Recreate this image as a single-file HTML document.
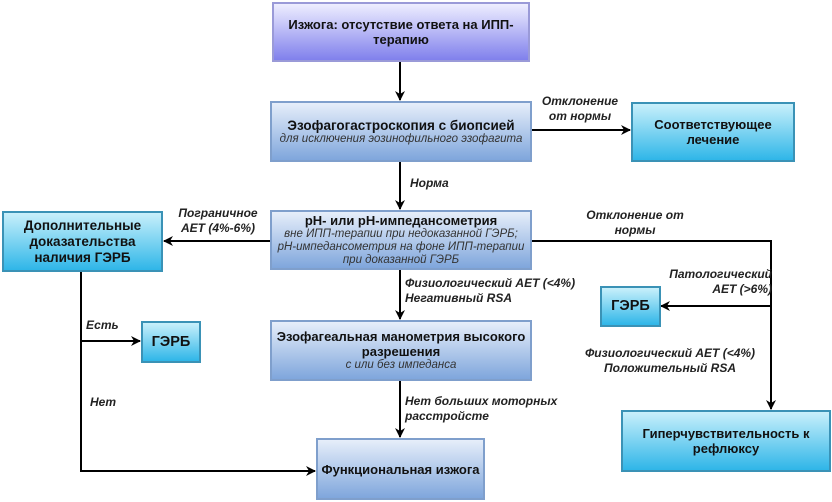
<!DOCTYPE html><html><head><meta charset="utf-8"><style>
body{margin:0;width:832px;height:502px;background:#fff;position:relative;overflow:hidden;font-family:"Liberation Sans",sans-serif;}
.b{position:absolute;box-sizing:border-box;display:flex;flex-direction:column;justify-content:center;align-items:center;text-align:center;font-size:13px;line-height:15px;color:#111;font-weight:600;}
.p{background:linear-gradient(#eeeeff,#8080ec);border:2px solid #9a9ad8;}
.bl{background:linear-gradient(#e6eefa,#7fa6dc);border:2px solid #7f9fcc;}
.c{background:linear-gradient(#c8f0fb,#2fb6e8);border:2px solid #3a92b6;}
i{font-size:11.5px;line-height:13px;color:#333;font-weight:normal}
.l{position:absolute;font-style:italic;font-weight:bold;font-size:12px;line-height:15px;color:#222;text-align:center;}
</style></head><body>
<svg width="832" height="502" style="position:absolute;left:0;top:0">
<defs><marker id="a" markerWidth="10" markerHeight="10" refX="9" refY="5" orient="auto" markerUnits="userSpaceOnUse"><path d="M0,0L10,5L0,10L3,5z" fill="#000"/></marker></defs>
<g stroke="#000" stroke-width="2" fill="none">
<path d="M400 61V100" marker-end="url(#a)"/>
<path d="M400 161V209" marker-end="url(#a)"/>
<path d="M400 269V319" marker-end="url(#a)"/>
<path d="M400 380V437" marker-end="url(#a)"/>
<path d="M531 130H630" marker-end="url(#a)"/>
<path d="M270 241H164" marker-end="url(#a)"/>
<path d="M531 241H771V409" marker-end="url(#a)"/>
<path d="M771 306H661" marker-end="url(#a)"/>
<path d="M81 271V471H315" marker-end="url(#a)"/>
<path d="M81 341H140" marker-end="url(#a)"/>
</g></svg>
<div class="b p" style="left:272px;top:2px;width:258px;height:60px">Изжога: отсутствие ответа на ИПП-<br>терапию</div>
<div class="b bl" style="left:270px;top:101px;width:262px;height:61px"><span style="font-size:13.5px">Эзофагогастроскопия с биопсией</span><i>для исключения эозинофильного эзофагита</i></div>
<div class="b bl" style="left:270px;top:210px;width:262px;height:60px"><b style="font-size:13px">pH- или pH-импедансометрия</b><i>вне ИПП-терапии при недоказанной ГЭРБ;<br>pH-импедансометрия на фоне ИПП-терапии<br>при доказанной ГЭРБ</i></div>
<div class="b bl" style="left:270px;top:320px;width:262px;height:61px">Эзофагеальная манометрия высокого<br>разрешения<i>с или без импеданса</i></div>
<div class="b bl" style="left:316px;top:438px;width:169px;height:62px">Функциональная изжога</div>
<div class="b c" style="left:631px;top:102px;width:164px;height:60px">Соответствующее<br>лечение</div>
<div class="b c" style="left:2px;top:211px;width:161px;height:61px;font-size:13.5px;line-height:16px">Дополнительные<br>доказательства<br>наличия ГЭРБ</div>
<div class="b c" style="left:141px;top:321px;width:60px;height:42px;font-weight:bold;font-size:14.5px">ГЭРБ</div>
<div class="b c" style="left:600px;top:286px;width:61px;height:41px;font-weight:bold;font-size:14.5px">ГЭРБ</div>
<div class="b c" style="left:621px;top:410px;width:210px;height:62px">Гиперчувствительность к<br>рефлюксу</div>
<div class="l" style="left:533px;top:94px;width:94px">Отклонение<br>от нормы</div>
<div class="l" style="left:410px;top:176px">Норма</div>
<div class="l" style="left:166px;top:206px;width:104px">Пограничное<br>AET (4%-6%)</div>
<div class="l" style="left:560px;top:208px;width:150px">Отклонение от<br>нормы</div>
<div class="l" style="left:405px;top:276px;text-align:left">Физиологический AET (&lt;4%)<br>Негативный RSA</div>
<div class="l" style="left:645px;top:267px;width:127px;text-align:right">Патологический<br>AET (&gt;6%)</div>
<div class="l" style="left:570px;top:346px;width:200px;text-align:center">Физиологический AET (&lt;4%)<br>Положительный RSA</div>
<div class="l" style="left:405px;top:394px;text-align:left">Нет больших моторных<br>расстройсте</div>
<div class="l" style="left:86px;top:318px">Есть</div>
<div class="l" style="left:90px;top:395px">Нет</div>
</body></html>
